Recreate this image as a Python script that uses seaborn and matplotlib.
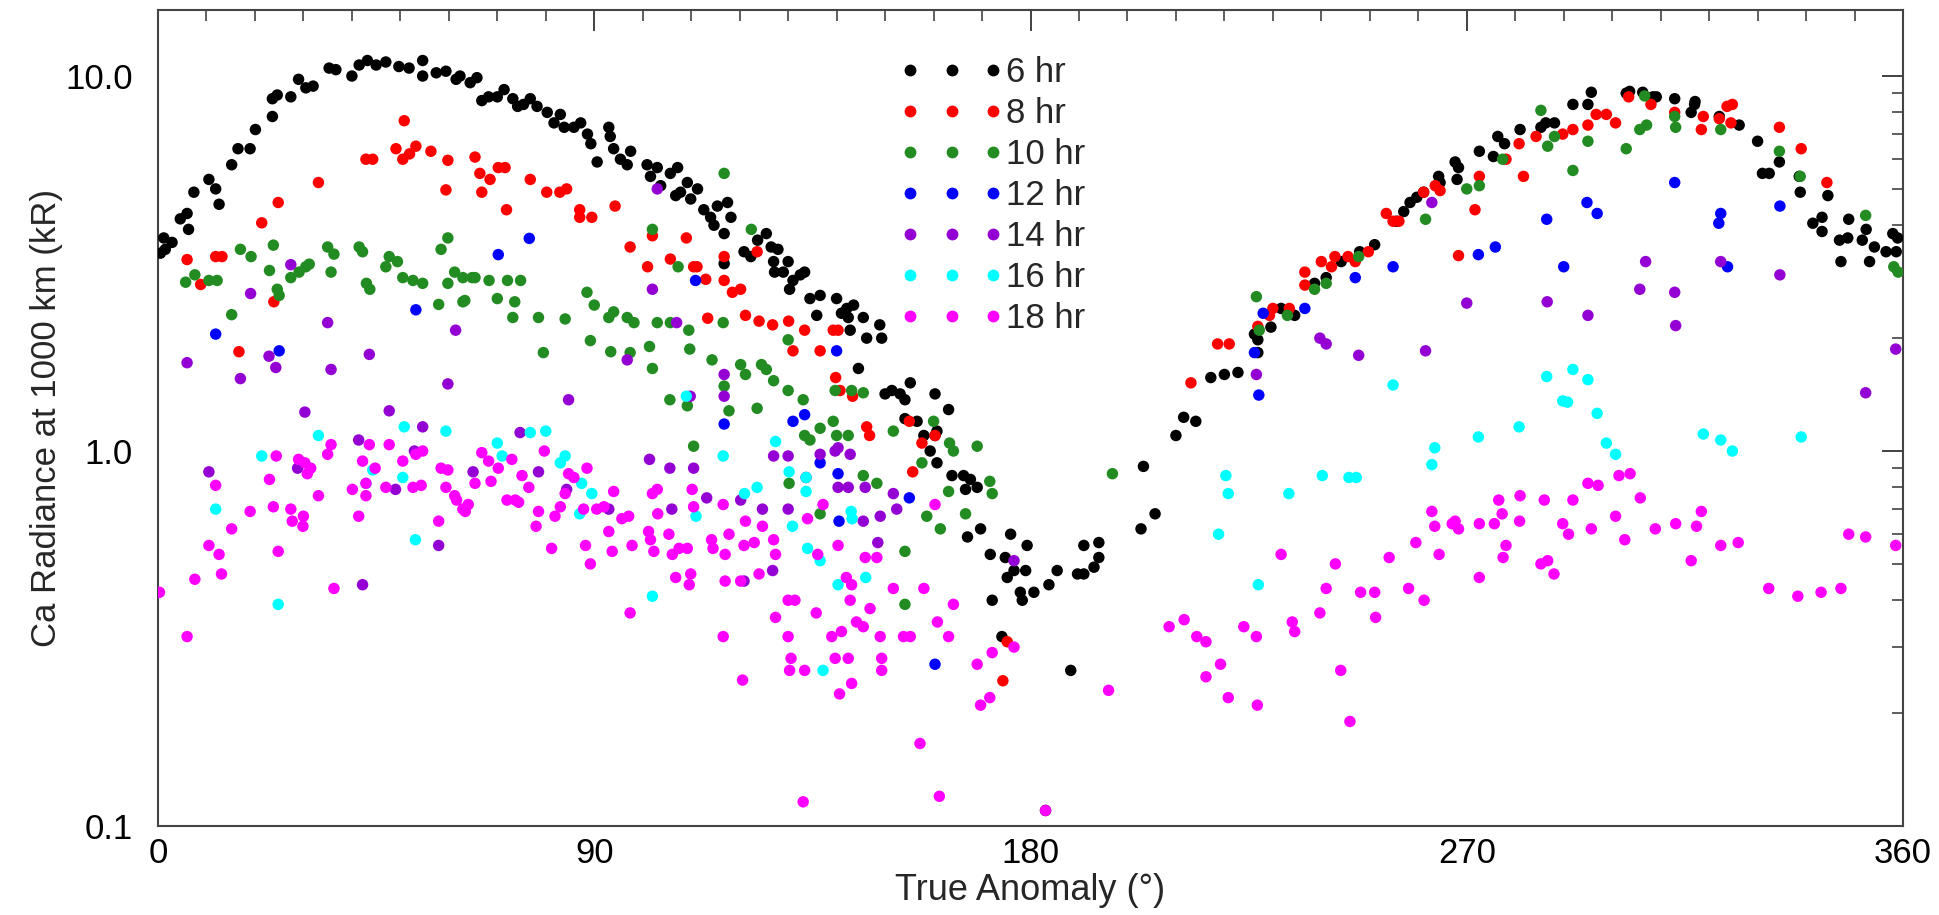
import numpy as np
import pandas as pd
import matplotlib
matplotlib.use("Agg")
import matplotlib.pyplot as plt
from matplotlib.lines import Line2D
from matplotlib.ticker import LogLocator, FixedLocator, MultipleLocator, NullFormatter
import seaborn as sns

# ---------------- data ----------------
hr6 = [(0.5,3.37),(1.2,3.7),(2.9,3.6),(1.5,3.45),(4.6,4.16),(6.0,4.3),(6.3,3.9),(7.4,4.9),(10.5,5.3),(11.9,5.0),(12.6,4.55),(15.2,5.8),(16.5,6.4),(19.0,6.4),(20.1,7.2),(23.6,8.7),(24.6,8.9),(23.6,7.8),(27.4,8.8),(29.0,9.8),(30.5,9.3),(32.0,9.4),(35.3,10.5),(36.7,10.4),(40.0,10.0),(41.5,10.7),(43.2,11.0),(45.0,10.7),(47.0,10.9),(49.7,10.6),(51.8,10.5),(54.6,11.0),(54.6,10.0),(57.4,10.2),(59.4,10.3),(61.5,9.8),
       (62.3,10.0),(64.4,9.6),(65.8,9.9),(66.8,8.6),(68.2,8.8),(70.0,8.8),(71.4,9.2),(73.2,8.7),(74.2,8.3),(75.4,8.4),(76.8,8.7),(78.2,8.3),(80.3,8.0),(81.7,7.5),(83.0,7.9),(83.8,7.3),(85.8,7.3),(87.2,7.5),(88.6,7.0),(89.3,6.6),(90.6,5.9),(93.0,7.3),(93.3,6.9),(94.0,6.4),(95.4,6.0),(96.8,5.8),(97.5,6.3),(100.9,5.8),(101.6,5.4),(103.0,5.7),(103.7,5.1),(105.7,5.5),(107.2,5.7),(106.8,4.8),(107.8,4.9),(109.2,5.2),(109.9,4.7),(111.3,5.0),(112.6,4.4),(114.0,4.2),(115.4,4.5),(117.5,4.6),(114.7,4.0),(116.8,3.8),(118.2,4.2),(116.8,3.16),(120.9,3.4),(122.3,3.3),(123.7,3.65),(126.5,3.5),(127.2,3.0),
       (125.5,3.8),(127.9,3.45),(127.0,3.2),(129.0,3.0),(130.0,3.2),(130.3,2.7),(132.5,2.95),(133.4,3.0),(131.0,2.85),(134.5,2.55),(136.6,2.6),(140.0,2.55),(142.1,2.4),(143.5,2.45),(141.0,2.33),(142.4,2.27),(135.9,2.3),(145.5,2.27),(146.2,2.0),(148.9,2.17),(149.3,2.0),(142.8,2.1),(144.5,1.66),(150.0,1.42),(151.4,1.45),(153.1,1.42),(154.1,1.37),(155.2,1.52),(154.1,1.22),(156.6,1.2),(158.0,1.1),(160.7,1.13),(160.3,1.42),(160.3,1.1),(159.3,1.0),(160.7,0.93),(163.1,1.29),(163.8,0.86),(166.2,0.86),(167.6,0.84),(169.0,0.8),(166.6,0.79),(167.0,0.59),(169.7,0.62),(171.7,0.53),(172.1,0.40),(174.8,0.52),(176.6,0.48),(179.0,0.48),(175.9,0.60),(179.3,0.56),(175.2,0.46),(177.9,0.42),(180.7,0.42),(178.3,0.40),(183.8,0.44),(185.5,0.48),(189.7,0.47),(191.0,0.56),(174.1,0.32),(188.3,0.26),(183.1,0.11),
       (191.0,0.47),(193.1,0.49),(194.1,0.52),(194.1,0.57),(202.8,0.62),(205.7,0.68),(203.3,0.91),(210.0,1.1),(211.6,1.23),(214.1,1.2),(217.2,1.57),(220.0,1.6),(222.8,1.62),(226.9,1.83),(226.9,1.98),(226.2,2.05),(229.6,2.14),(231.7,2.4),(234.5,2.3),(238.6,2.8),(241.0,2.9),(244.1,3.2),(247.9,3.4),(251.0,3.55),(255.5,4.1),(257.0,4.35),
       (258.3,4.6),(259.7,4.75),(261.1,4.9),(264.2,5.4),(264.5,5.2),(267.6,5.9),(268.3,5.7),(268.0,5.3),(272.6,6.3),(275.5,6.1),(276.4,6.9),(277.8,6.6),(281.0,7.2),(285.3,7.3),(286.3,7.5),(288.1,7.5),(291.9,8.4),(295.0,8.4),(295.7,9.05),(302.9,9.0),(303.6,9.1),(306.3,9.05),(308.4,8.8),(309.1,8.8),(312.9,8.7),(316.3,8.0),(317.0,8.4),
       (317.1,8.55),(322.1,7.8),(326.2,7.4),(330.0,6.7),(331.0,5.5),(332.4,5.5),(334.5,5.9),(338.6,5.4),(338.8,4.9),(341.4,4.05),(343.3,4.2),(343.3,3.85),(344.5,4.8),(346.9,3.65),(348.6,3.7),(347.2,3.2),(348.8,4.15),(351.6,3.65),(352.4,3.9),(353.1,3.2),(354.1,3.5),(356.5,3.4),(357.9,3.8),(358.9,3.7),(358.6,3.4)]

hr8 = [(6.0,3.24),(8.8,2.78),(11.9,3.3),(13.2,3.3),(16.7,1.84),(21.4,4.06),(23.9,2.5),(24.8,4.6),(33.1,5.2),(42.9,6.0),(44.3,6.0),(49.1,6.4),(50.5,6.0),(51.9,6.2),(53.2,6.5),(50.8,7.6),(56.3,6.3),(59.8,5.96),(59.4,4.97),
       (65.4,6.08),(66.4,5.5),(68.5,5.3),(66.8,4.9),(70.2,5.7),(71.6,5.7),(71.9,4.4),(76.8,5.3),(80.2,4.9),(82.9,4.9),(84.3,5.0),(87.0,4.4),(87.0,4.2),(89.5,4.2),(94.3,4.5),(97.4,3.5),(102.0,3.75),(101.0,3.1),(105.7,3.25),(109.0,3.7),(110.5,3.1),(111.2,3.1),(113.0,2.87),(116.8,3.3),(116.8,2.85),(118.5,2.65),(120.2,2.7),(123.6,3.4),(113.4,2.26),(121.2,2.3),(124.0,2.22),(126.8,2.17),
       (130.1,2.22),(133.4,2.1),(139.3,2.1),(140.3,2.1),(131.0,1.85),(136.6,1.85),(139.8,1.57),(140.7,1.45),(143.3,1.4),(146.2,1.16),(146.8,1.1),(155.0,1.2),(157.6,1.05),(160.3,1.1),(155.7,0.88),(175.2,0.31),(174.3,0.244),
       (213.1,1.52),(218.6,1.93),(221.0,1.93),(226.9,2.15),(229.3,2.3),(230.0,2.4),(233.4,2.4),(236.6,3.0),(236.6,2.77),(240.0,3.2),(242.1,3.1),(242.8,3.3),(245.5,3.3),(247.0,3.2),(249.7,3.4),(253.4,4.3),(254.8,4.1),
       (256.0,4.1),(261.1,4.9),(263.5,5.1),(264.5,4.95),(268.3,3.32),(271.7,4.4),(272.6,5.4),(278.1,6.0),(280.8,6.6),(281.7,5.4),(284.3,6.9),(289.8,7.0),(291.9,7.2),(295.0,7.4),(296.7,7.9),(298.8,7.9),(300.7,7.5),(303.4,8.8),(308.0,8.4),(312.9,8.0),(318.8,7.8),(318.4,7.2),
       (322.1,7.7),(323.7,8.3),(324.8,8.4),(324.5,7.5),(334.5,7.3),(339.0,6.4),(344.3,5.2)]

hr10 = [(5.7,2.82),(7.6,2.95),(10.5,2.85),(12.2,2.85),(15.2,2.31),(17.0,3.45),(19.2,3.3),(23.0,3.03),(23.8,3.54),(24.6,2.7),(25.0,2.6),(27.4,2.9),(29.1,3.0),(30.5,3.1),(31.2,3.15),(35.0,3.5),(36.3,3.35),(35.7,3.0),(41.5,3.5),(42.2,3.4),(43.0,2.8),(43.7,2.7),(47.0,3.1),(47.7,3.3),(49.4,3.2),(50.5,2.9),(52.6,2.85),(54.6,2.8),(57.9,2.46),(58.4,3.45),(59.8,3.7),(59.8,2.8),(61.2,3.0),(62.9,2.9),(62.9,2.5),
        (63.3,2.52),(64.8,2.9),(65.4,2.9),(68.3,2.85),(72.1,2.85),(74.8,2.85),(70.0,2.55),(73.6,2.5),(73.2,2.27),(78.5,2.27),(84.0,2.25),(79.5,1.83),(88.5,2.65),(90.0,2.45),(89.2,1.97),(93.0,2.27),(94.0,2.35),(96.8,2.27),(98.2,2.2),(93.4,1.84),(97.4,1.83),(101.4,1.9),(102.0,1.66),(103.0,2.2),(105.7,2.2),(109.5,2.1),(109.7,1.87),(102.0,3.9),(116.8,5.5),(122.4,3.9),(107.3,3.1),(105.6,1.37),(109.2,1.32),(110.5,1.03),(114.3,1.75),(116.6,2.2),(116.8,1.49),(117.8,1.28),(120.2,1.7),(121.2,1.6),(124.5,1.7),(123.6,1.3),(127.0,1.54),
        (125.5,1.65),(130.0,1.98),(130.0,1.45),(133.1,1.37),(133.4,1.1),(134.5,1.07),(136.6,1.15),(139.3,1.2),(140.0,1.1),(142.4,1.1),(139.7,1.45),(143.1,1.45),(145.5,0.86),(145.5,1.43),(148.3,0.82),(151.7,1.13),(130.2,0.82),(136.6,0.68),(154.1,0.54),(158.6,0.67),(161.4,0.62),(160.0,1.2),(163.3,1.05),(164.1,1.0),(157.6,0.93),(163.1,0.78),(166.6,0.68),(169.0,1.03),(171.6,0.83),(172.1,0.77),(154.1,0.39),
        (196.9,0.87),(226.6,2.58),(227.2,2.1),(233.0,2.3),(238.6,2.7),(241.0,2.8),(247.7,3.3),
        (261.5,4.15),(270.0,5.0),(272.6,5.1),(277.4,6.0),(285.3,8.1),(286.7,6.5),(288.1,6.9),(291.9,5.6),(295.0,6.7),(302.9,6.4),(305.7,7.2),(307.1,7.4),(306.7,8.85),(312.9,7.8),(313.1,7.3),
        (322.4,7.2),(334.5,6.3),(338.8,5.4),(352.3,4.25),(358.1,3.1),(359.0,3.0)]

hr12 = [(11.9,2.05),(25.0,1.85),(53.2,2.38),(70.2,3.34),(76.6,3.69),(110.9,2.85),(116.8,1.18),(131.0,1.2),(133.4,1.25),(136.6,0.93),(140.0,1.85),(140.3,0.87),(140.5,0.65),(155.0,0.75),(160.3,0.27),
        (228.0,2.33),(226.2,1.83),(227.1,1.41),(236.6,2.4),(247.0,2.9),(254.8,3.1),(272.4,3.34),(275.9,3.5),(286.5,4.15),(290.0,3.1),(294.8,4.6),(296.9,4.3),(312.9,5.2),(322.4,4.3),(322.0,4.05),(323.8,3.1),(334.6,4.5)]

hr14 = [(6.0,1.72),(10.5,0.88),(17.0,1.56),(19.1,2.63),(22.9,1.79),(24.3,1.67),(27.4,3.14),(28.8,0.9),(30.3,1.27),(35.0,2.2),(35.7,1.65),(41.4,1.07),(42.2,0.44),(43.6,1.81),(47.7,1.28),(49.0,0.79),(52.9,1.0),(54.6,1.16),(57.9,0.56),(59.8,1.51),(61.4,2.1),
        (65.0,0.88),(74.7,1.12),(78.5,0.88),(84.7,1.37),(84.3,0.79),(93.0,0.7),(96.8,1.75),(102.0,2.7),(103.0,5.0),(101.4,0.95),(105.6,0.9),(106.0,0.7),(107.0,2.2),(109.8,1.4),(110.5,0.9),(113.2,0.75),(116.8,1.6),(116.8,1.4),(120.2,0.74),(124.7,0.7),(127.0,0.97),(126.8,0.48),(120.9,0.45),
        (130.0,0.97),(130.0,0.7),(133.7,0.85),(136.6,0.98),(139.7,1.0),(140.3,1.02),(142.8,0.98),(140.3,0.8),(142.4,0.8),(145.9,0.8),(145.5,0.65),(149.0,0.67),(148.5,0.57),(151.7,0.77),(152.4,0.7),(176.6,0.51),
        (226.6,1.6),(239.7,2.0),(241.0,1.93),(247.7,1.8),
        (262.8,4.6),(261.5,1.85),(270.0,2.48),(286.6,2.5),(295.0,2.3),(305.7,2.7),(306.9,3.2),(312.9,2.65),(313.1,2.16),
        (322.4,3.2),(334.6,2.95),(352.3,1.43),(358.5,1.87)]

hr16 = [(11.9,0.70),(21.4,0.97),(24.8,0.39),(33.1,1.10),(42.9,0.82),(44.3,0.89),(50.8,1.16),(50.5,0.85),(53.1,0.58),(59.4,1.13),(70.0,1.05),(71.0,0.97),(76.8,1.12),(80.0,1.13),(83.0,0.93),(84.0,0.97),(87.4,0.82),(89.5,0.77),(87.0,0.68),(102.0,0.41),(109.0,1.4),(111.0,0.67),(116.6,0.97),(121.0,0.77),(123.6,0.8),(127.4,1.06),
        (130.2,0.88),(130.9,0.63),(133.7,0.85),(133.7,0.78),(134.0,0.55),(136.6,0.51),(140.3,0.44),(143.0,0.69),(143.2,0.66),(146.0,0.46),(137.2,0.26),
        (220.3,0.86),(220.8,0.77),(218.8,0.6),(227.0,0.44),(233.3,0.77),(240.2,0.86),(245.7,0.85),(247.2,0.85),(254.8,1.5),(262.8,0.92),(263.4,1.02),(272.4,1.09),(280.8,1.16),(286.5,1.58),(291.9,1.65),(295.0,1.55),(289.8,1.36),(290.8,1.35),(296.9,1.26),(298.8,1.05),(300.7,0.98),(318.8,1.11),(322.4,1.07),(324.8,1.0),(339.0,1.09)]

hr18 = [(0.3,0.42),(6.0,0.32),(7.6,0.455),(10.5,0.56),(11.9,0.81),(12.6,0.53),(13.1,0.47),(15.2,0.62),(19.0,0.69),(23.0,0.84),(23.8,0.71),(24.4,0.97),(24.8,0.54),(27.4,0.70),(27.7,0.65),(29.0,0.95),(30.3,0.93),(31.5,0.90),(30.8,0.87),(30.0,0.67),(29.9,0.63),(33.1,0.76),(35.0,0.98),(35.7,1.04),(36.3,0.43),(40.1,0.79),(41.4,0.67),(42.2,0.94),(42.9,0.82),(42.9,0.76),(43.6,1.04),(44.8,0.90),(47.0,0.80),(47.7,1.04),(50.5,0.94),(52.6,0.80),(54.3,0.81),(53.2,0.98),(54.6,1.0),(57.9,0.65),(58.4,0.90),(59.8,0.89),(59.4,0.80),(61.2,0.76),(62.9,0.70),
        (61.6,0.74),(64.0,0.72),(63.4,0.69),(66.8,0.99),(68.2,0.94),(70.2,0.90),(65.4,0.82),(68.7,0.83),(73.0,0.95),(75.1,0.86),(76.5,0.80),(72.0,0.74),(73.7,0.74),(74.4,0.73),(79.7,1.0),(78.5,0.69),(78.0,0.63),(81.9,0.67),(83.0,0.71),(81.2,0.55),(84.7,0.87),(85.8,0.85),(84.0,0.77),(88.5,0.9),(88.2,0.56),(89.2,0.50),(87.8,0.70),(90.5,0.70),(92.0,0.71),(93.7,0.54),(93.0,0.61),(94.0,0.78),(95.7,0.66),(97.1,0.67),(97.8,0.56),(97.4,0.37),(101.2,0.61),(101.6,0.58),(102.3,0.54),(102.0,0.77),(103.0,0.79),(103.1,0.68),(105.4,0.60),(106.1,0.53),(107.5,0.55),(109.2,0.55),(106.8,0.46),(109.9,0.47),(109.6,0.44),(110.2,0.79),(110.5,0.71),(114.2,0.58),(114.5,0.55),(116.6,0.72),(117.8,0.60),(117.0,0.53),(117.0,0.45),(120.2,0.45),(116.6,0.32),(120.6,0.245),(121.2,0.65),(120.9,0.56),(123.0,0.57),(124.0,0.47),(124.7,0.63),(127.4,0.53),(127.0,0.58),(127.4,0.36),
        (130.0,0.40),(131.4,0.40),(130.0,0.32),(130.6,0.28),(130.3,0.26),(133.4,0.26),(133.1,0.116),(134.0,0.66),(136.1,0.53),(135.8,0.37),(137.2,0.72),(139.0,0.32),(141.0,0.33),(139.7,0.28),(142.4,0.28),(140.6,0.225),(143.1,0.24),(140.3,0.56),(142.0,0.46),(143.1,0.44),(142.8,0.40),(144.1,0.35),(145.5,0.34),(146.9,0.38),(145.9,0.52),(148.3,0.52),(149.0,0.32),(149.3,0.28),(149.3,0.26),(151.7,0.43),(153.8,0.32),(155.2,0.32),(158.0,0.43),(157.2,0.166),(160.3,0.72),(161.2,0.12),(160.8,0.35),(163.1,0.32),(164.1,0.39),(169.0,0.27),(169.7,0.21),(171.6,0.22),(172.1,0.29),(176.6,0.30),(183.1,0.11),
        (196.1,0.23),(208.6,0.34),(211.7,0.355),(214.3,0.32),(216.2,0.31),(216.2,0.25),(219.2,0.27),(220.8,0.22),(224.0,0.34),(226.6,0.32),(226.8,0.21),(231.7,0.53),(234.0,0.35),(234.5,0.33),(239.7,0.37),(241.0,0.43),(242.9,0.50),(244.0,0.26),(245.9,0.19),(248.1,0.42),(251.0,0.42),(251.2,0.36),(254.0,0.52),
        (258.0,0.43),(259.5,0.57),(261.2,0.40),(262.8,0.69),(263.4,0.63),(264.3,0.53),(267.0,0.64),(268.3,0.62),(267.6,0.65),(272.6,0.64),(272.6,0.46),(275.7,0.64),(276.6,0.74),(277.3,0.68),(278.1,0.56),(277.5,0.52),(281.0,0.76),(280.9,0.65),(286.0,0.74),(285.3,0.50),(286.7,0.51),(288.0,0.47),(289.8,0.64),(291.0,0.60),(291.9,0.74),(295.0,0.82),(297.1,0.81),(295.7,0.62),(300.7,0.67),(301.4,0.86),(303.7,0.87),(302.6,0.58),(305.8,0.75),(308.9,0.62),(313.1,0.64),(317.4,0.63),(318.4,0.69),(316.3,0.51),
        (322.4,0.56),(326.0,0.57),(332.3,0.43),(338.3,0.41),(343.1,0.42),(347.2,0.43),(348.8,0.60),(352.3,0.59),(358.5,0.56)]

series_labels = ["6 hr", "8 hr", "10 hr", "12 hr", "14 hr", "16 hr", "18 hr"]
series_data = [hr6, hr8, hr10, hr12, hr14, hr16, hr18]
series_colors = ["#000000", "#ff0000", "#228b22", "#0000ff", "#9400d3", "#00ffff", "#ff00ff"]

x_ticks = [0, 90, 180, 270, 360]
y_ticks = [0.1, 1.0, 10.0]
y_ticklabels = ["0.1", "1.0", "10.0"]

# ---------------- build frame ----------------
frames = []
for lab, pts in zip(series_labels, series_data):
    arr = np.array(pts)
    frames.append(pd.DataFrame({"anomaly": arr[:, 0], "radiance": arr[:, 1], "series": lab}))
df = pd.concat(frames, ignore_index=True)

sns.set_theme(style="white")
plt.rcParams["font.family"] = ["Liberation Sans", "DejaVu Sans"]

fig = plt.figure(figsize=(19.4, 9.15), dpi=100)
ax = fig.add_axes([158/1940, 89/915, (1903-158)/1940, (826-10)/915])

palette = dict(zip(series_labels, series_colors))
sns.scatterplot(data=df, x="anomaly", y="radiance", hue="series", hue_order=series_labels,
                palette=palette, s=68, linewidth=0, marker="o", legend=False, ax=ax, zorder=3)

ax.set_yscale("log")
ax.set_xlim(0, 360)
ax.set_ylim(0.1, 15)
ax.xaxis.set_major_locator(FixedLocator(x_ticks))
ax.xaxis.set_minor_locator(MultipleLocator(10))
ax.yaxis.set_major_locator(FixedLocator(y_ticks))
ax.set_yticklabels(y_ticklabels)
ax.yaxis.set_minor_locator(LogLocator(base=10, subs=np.arange(2, 10)))
ax.yaxis.set_minor_formatter(NullFormatter())

ax.tick_params(axis="both", which="both", direction="in", top=True, right=True,
               colors="#333333", labelcolor="black", labelsize=25)
ax.tick_params(axis="both", which="major", length=15, width=1.3)
ax.tick_params(axis="y", which="major", pad=18)
ax.tick_params(axis="x", which="major", pad=8)
ax.tick_params(which="minor", length=8, width=1.1)
for sp in ax.spines.values():
    sp.set_color("#444444")
    sp.set_linewidth(1.5)

ax.set_xlabel("True Anomaly (°)", fontsize=26, labelpad=2)
ax.set_ylabel("Ca Radiance at 1000 km (kR)", fontsize=25, labelpad=2)

handles = [Line2D([], [], linestyle="none", marker="o", markersize=8.5, markeredgewidth=0,
                  markerfacecolor=c, color=c) for c in series_colors]
fig.legend(handles, series_labels, loc="upper left", bbox_to_anchor=(900/1940, 1 - 56/915),
           numpoints=3, handlelength=2.97, handletextpad=0.08, labelspacing=0.23,
           frameon=False, fontsize=25, borderpad=0, borderaxespad=0)

fig.savefig("out.png", dpi=100)
